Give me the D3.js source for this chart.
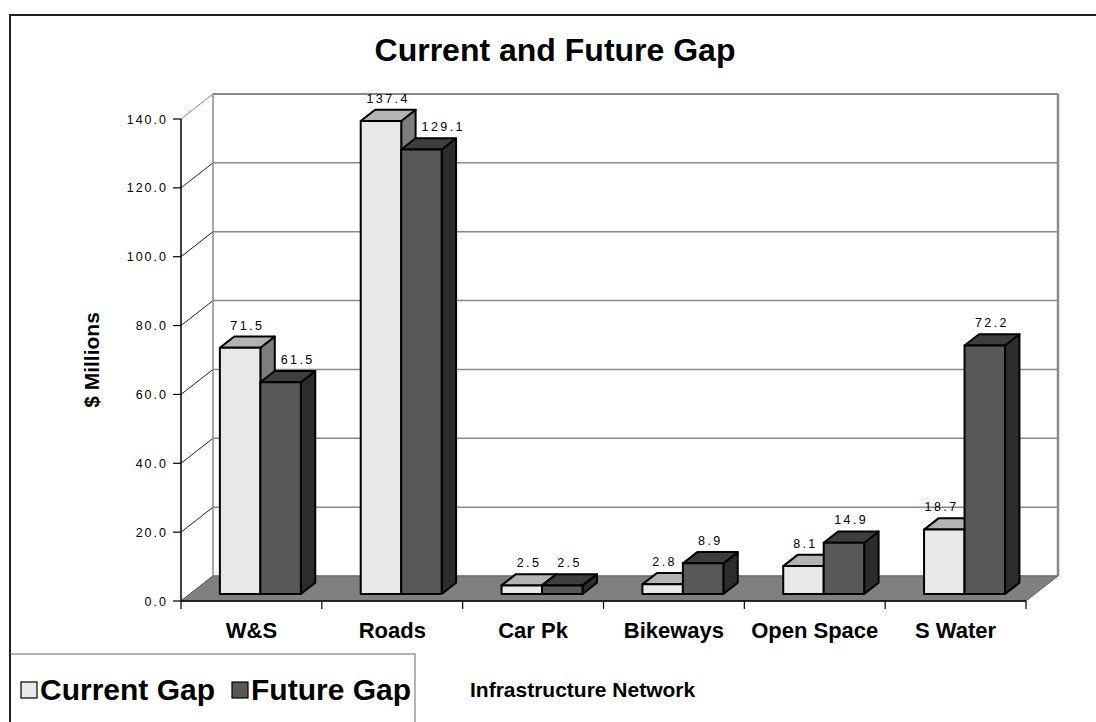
<!DOCTYPE html>
<html>
<head>
<meta charset="utf-8">
<script src="https://cdn.jsdelivr.net/npm/d3@7"></script>
<style>
  html, body { margin: 0; padding: 0; background: #fff; }
  svg { display: block; font-family: Arial, "Liberation Sans", sans-serif; }
</style>
</head>
<body>
<svg id="chart" width="1096" height="722"></svg>
<script>
// Infrastructure categories and gap values ($ millions)
const categories = ["W&S", "Roads", "Car Pk", "Bikeways", "Open Space", "S Water"];
const currentGap = [71.5, 137.4, 2.5, 2.8, 8.1, 18.7];
const futureGap  = [61.5, 129.1, 2.5, 8.9, 14.9, 72.2];
const seriesNames = ["Current Gap", "Future Gap"];
const yTicks = [0, 20, 40, 60, 80, 100, 120, 140];

const svg = d3.select("#chart");

// Front plane of the plot box and the 3-D depth offset
const plotLeft = 181, plotRight = 1026, plotBottom = 601, plotTop = 119;
const depthX = 32, depthY = -25;

const x = d3.scaleBand().domain(categories).range([plotLeft, plotRight]);
const y = d3.scaleLinear().domain([0, 140]).range([plotBottom, plotTop]);
const catW = x.bandwidth();
const pairW = catW * 0.575;
const sub = d3.scaleBand().domain(seriesNames).range([0, pairW]);

// project a front-plane point back by fraction d of the depth
const P = (px, py, d) => [px + d * depthX, py + d * depthY];

// Outer frame (open on the right and bottom)
svg.append("path")
  .attr("d", "M10,722 V15 H1096")
  .attr("fill", "none").attr("stroke", "#1e1e1e").attr("stroke-width", 2);

// Title
svg.append("text")
  .attr("x", 555).attr("y", 61)
  .attr("text-anchor", "middle")
  .attr("font-weight", "bold").attr("font-size", 32)
  .text("Current and Future Gap");

// Left side wall lines at each tick
const wall = svg.append("g");
yTicks.forEach(t => {
  const a = [plotLeft, y(t)], b = P(plotLeft, y(t), 1);
  wall.append("line")
    .attr("x1", a[0]).attr("y1", a[1]).attr("x2", b[0]).attr("y2", b[1])
    .attr("stroke", t === 140 ? "#888" : "#222").attr("stroke-width", 1);
});

// Back wall gridlines
yTicks.forEach(t => {
  const a = P(plotLeft, y(t), 1), b = P(plotRight, y(t), 1);
  wall.append("line")
    .attr("x1", a[0]).attr("y1", a[1]).attr("x2", b[0]).attr("y2", b[1])
    .attr("stroke", "#888").attr("stroke-width", t === 140 ? 2 : 1.5);
});
// Back wall verticals
[[plotLeft, 1.5], [plotRight, 2.5]].forEach(([px, w]) => {
  const a = P(px, y(0), 1), b = P(px, y(140), 1);
  wall.append("line")
    .attr("x1", a[0]).attr("y1", a[1]).attr("x2", b[0]).attr("y2", b[1])
    .attr("stroke", "#8a8a8a").attr("stroke-width", w);
});

// Floor
const f0 = [plotLeft, y(0)], f1 = P(plotLeft, y(0), 1), f2 = P(plotRight, y(0), 1), f3 = [plotRight, y(0)];
svg.append("path")
  .attr("d", `M${f0}L${f1}L${f2}L${f3}Z`)
  .attr("fill", "#808080").attr("stroke", "#666").attr("stroke-width", 1);

// Y axis
const yAxis = svg.append("g");
yAxis.append("line")
  .attr("x1", plotLeft).attr("x2", plotLeft).attr("y1", y(0)).attr("y2", y(140))
  .attr("stroke", "#000").attr("stroke-width", 1.5);
yTicks.forEach(t => {
  yAxis.append("line")
    .attr("x1", plotLeft - 8).attr("x2", plotLeft).attr("y1", y(t)).attr("y2", y(t))
    .attr("stroke", "#000").attr("stroke-width", 1.2);
  yAxis.append("text")
    .attr("x", 168).attr("y", y(t) + 4.5)
    .attr("text-anchor", "end")
    .attr("font-size", 12.5).attr("letter-spacing", 2)
    .text(d3.format(".1f")(t));
});

// X axis
const xAxis = svg.append("g");
xAxis.append("line")
  .attr("x1", plotLeft).attr("x2", plotRight).attr("y1", plotBottom).attr("y2", plotBottom)
  .attr("stroke", "#000").attr("stroke-width", 1.5);
d3.range(categories.length + 1).forEach(i => {
  const px = plotLeft + i * catW;
  xAxis.append("line")
    .attr("x1", px).attr("x2", px).attr("y1", plotBottom).attr("y2", plotBottom + 8)
    .attr("stroke", "#000").attr("stroke-width", 1.2);
});
categories.forEach(c => {
  xAxis.append("text")
    .attr("x", x(c) + catW / 2).attr("y", 638)
    .attr("text-anchor", "middle")
    .attr("font-weight", "bold").attr("font-size", 22)
    .text(c);
});

// Axis titles
svg.append("text")
  .attr("transform", "translate(99,360) rotate(-90)")
  .attr("text-anchor", "middle")
  .attr("font-weight", "bold").attr("font-size", 21)
  .text("$ Millions");
svg.append("text")
  .attr("x", 470).attr("y", 697)
  .attr("font-weight", "bold").attr("font-size", 21)
  .text("Infrastructure Network");

// Bars as 3-D boxes
const colors = {
  "Current Gap": { front: "#e8e8e8", top: "#b3b3b3", side: "#7d7d7d" },
  "Future Gap":  { front: "#585858", top: "#3e3e3e", side: "#2c2c2c" }
};
const d0 = 0.28, d1 = 0.73;   // depth range occupied by bars
const bars = svg.append("g")
  .attr("stroke", "#000").attr("stroke-width", 2).attr("stroke-linejoin", "round");
const labelInfo = [];

categories.forEach((c, i) => {
  const vals = [currentGap[i], futureGap[i]];
  seriesNames.forEach((s, j) => {
    const v = vals[j];
    const x0 = x(c) + (catW - pairW) / 2 + sub(s);
    const x1 = x0 + sub.bandwidth();
    const yb = y(0), yt = y(v);
    const A = P(x0, yb, d0), B = P(x1, yb, d0), C = P(x1, yt, d0), D = P(x0, yt, d0);
    const Bb = P(x1, yb, d1), Cb = P(x1, yt, d1), Db = P(x0, yt, d1);
    const g = bars.append("g");
    g.append("path").attr("d", `M${B}L${Bb}L${Cb}L${C}Z`).attr("fill", colors[s].side);
    g.append("path").attr("d", `M${D}L${C}L${Cb}L${Db}Z`).attr("fill", colors[s].top);
    g.append("path").attr("d", `M${A}L${B}L${C}L${D}Z`).attr("fill", colors[s].front);
    labelInfo.push({ v, cx: (D[0] + Cb[0]) / 2, topY: Db[1], frontLeft: D[0], backRight: Cb[0], series: j, cat: i });
  });
});

// Value labels, nudged sideways when a taller neighbour bar is in the way
const labels = svg.append("g");
const gapPx = 6;
labelInfo.forEach(d => {
  const base = d.topY - 7;
  const t = labels.append("text")
    .attr("x", d.cx).attr("y", base)
    .attr("text-anchor", "middle")
    .attr("font-size", 12.5).attr("letter-spacing", 2.4)
    .text(d3.format(".1f")(d.v));
  const w = t.node().getComputedTextLength();
  const other = labelInfo.find(e => e.cat === d.cat && e.series !== d.series);
  if (other.topY < base) {
    if (d.series === 1 && d.cx - w / 2 < other.backRight + gapPx) {
      t.attr("x", other.backRight + gapPx + w / 2);
    } else if (d.series === 0 && d.cx + w / 2 > other.frontLeft - gapPx) {
      t.attr("x", other.frontLeft - gapPx - w / 2);
    }
  }
});

// Legend
const lg = svg.append("g");
lg.append("rect")
  .attr("x", 10).attr("y", 654).attr("width", 405).attr("height", 80)
  .attr("fill", "#fff").attr("stroke", "#808080").attr("stroke-width", 1.2);
lg.append("line").attr("x1", 10).attr("x2", 10).attr("y1", 654).attr("y2", 722)
  .attr("stroke", "#1e1e1e").attr("stroke-width", 2);
const legX = [21, 232];
seriesNames.forEach((s, j) => {
  lg.append("rect")
    .attr("x", legX[j]).attr("y", 682).attr("width", 16).attr("height", 16)
    .attr("fill", colors[s].front).attr("stroke", "#000").attr("stroke-width", 1.2);
  lg.append("text")
    .attr("x", legX[j] + 19).attr("y", 700)
    .attr("font-weight", "bold").attr("font-size", 30)
    .text(s);
});
</script>
</body>
</html>
